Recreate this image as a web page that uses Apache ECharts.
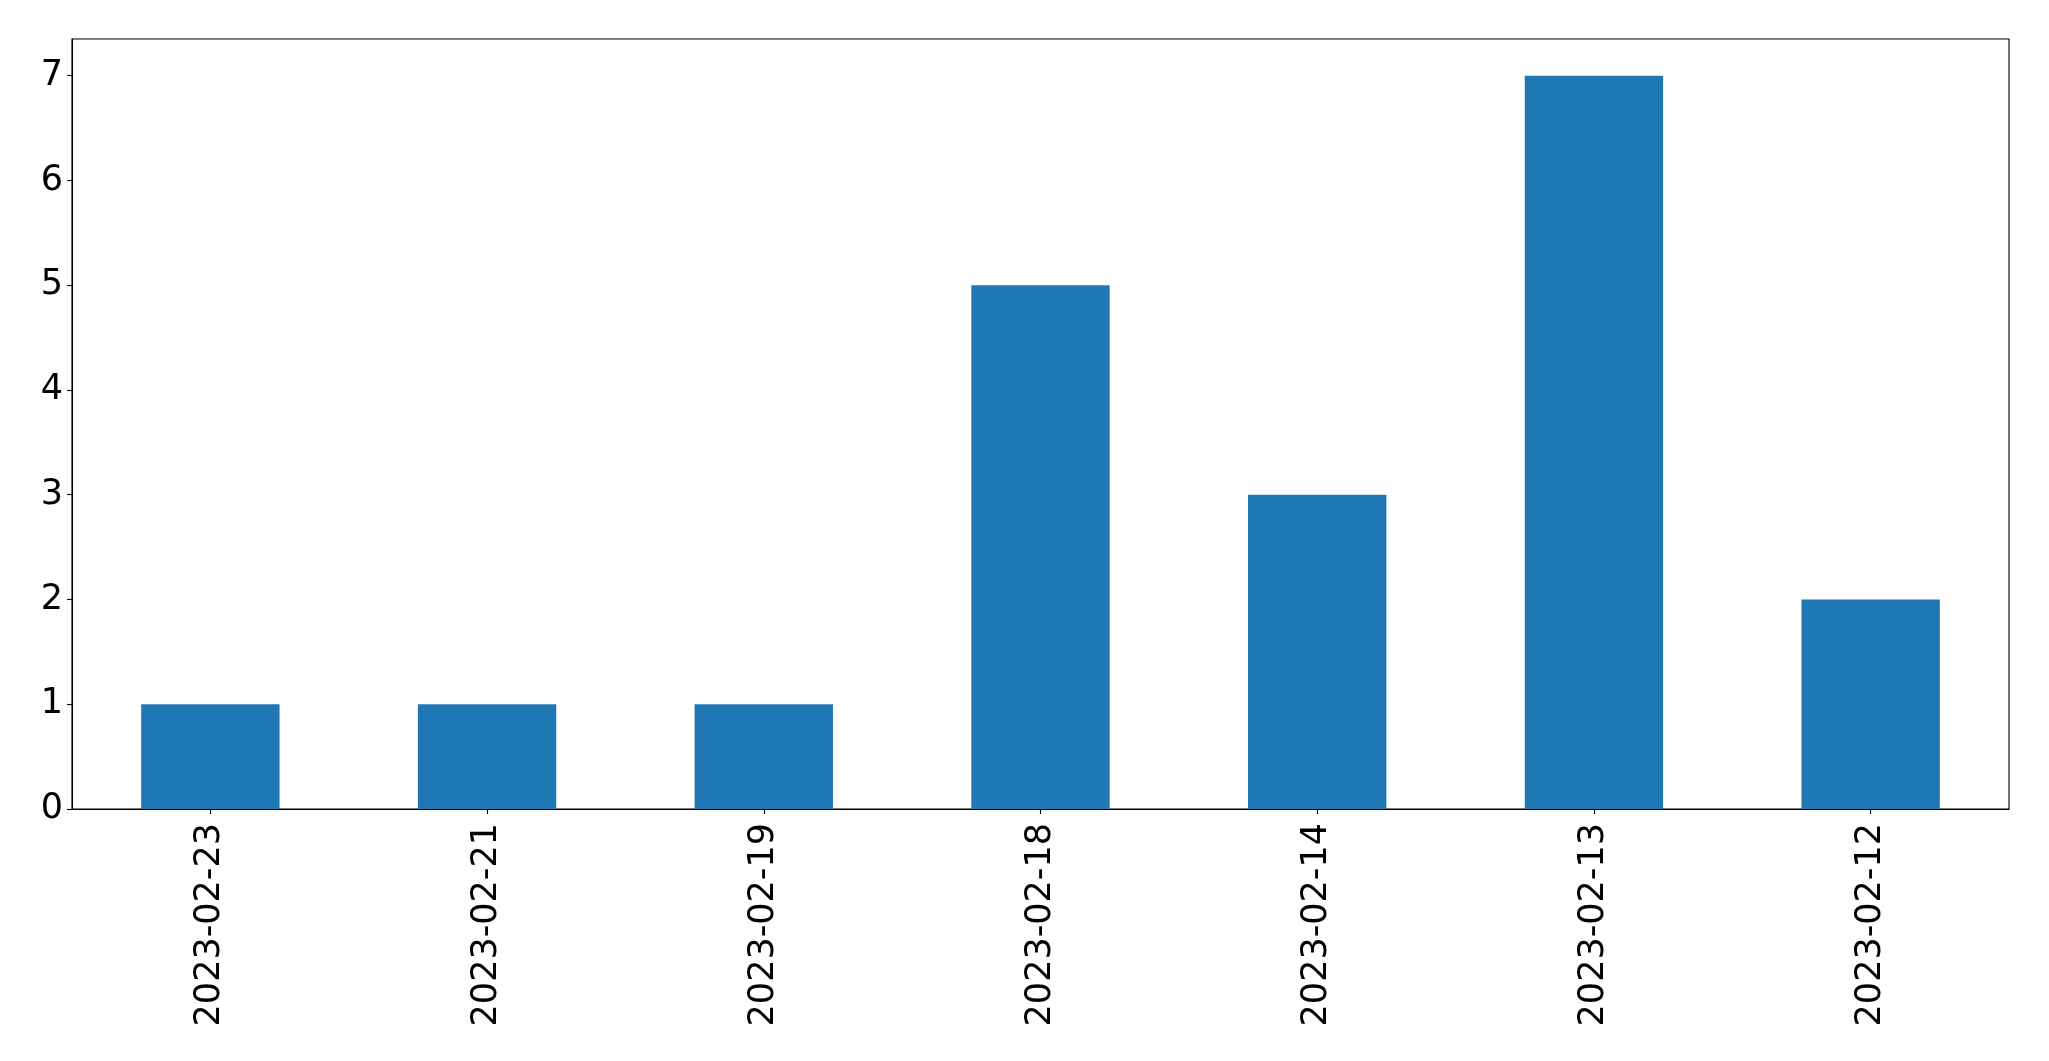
<!DOCTYPE html>
<html>
<head>
<meta charset="utf-8">
<script src="https://cdn.jsdelivr.net/npm/echarts@6/dist/echarts.min.js"></script>
<style>
html,body{margin:0;padding:0;background:#fff;}
#c{width:2049px;height:1061px;}
</style>
</head>
<body>
<div id="c"></div>
<script>
const categories = ["2023-02-23","2023-02-21","2023-02-19","2023-02-18","2023-02-14","2023-02-13","2023-02-12"];
const counts = [1, 1, 1, 5, 3, 7, 2];
const yTicks = [0, 1, 2, 3, 4, 5, 6, 7];

const chart = echarts.init(document.getElementById('c'));
const font = '"DejaVu Sans", sans-serif';
chart.setOption({
  animation: false,
  backgroundColor: '#ffffff',
  grid: {
    left: 72, right: 40, top: 39, bottom: 252,
    show: true, borderColor: '#000', borderWidth: 1.1, backgroundColor: 'transparent'
  },
  xAxis: {
    type: 'category',
    data: categories,
    boundaryGap: true,
    axisLine: { show: true, lineStyle: { color: '#000', width: 1.1 } },
    axisTick: { show: true, alignWithLabel: true, length: 5, lineStyle: { color: '#000', width: 1.1 } },
    axisLabel: { rotate: 90, fontSize: 35, color: '#000', fontFamily: font, margin: 14, interval: 0 },
    splitLine: { show: false }
  },
  yAxis: {
    type: 'value',
    min: 0, max: 7.35, interval: 1,
    axisLine: { show: true, lineStyle: { color: '#000', width: 1.1 } },
    axisTick: { show: true, length: 5, customValues: yTicks, lineStyle: { color: '#000', width: 1.1 } },
    axisLabel: { fontSize: 35, color: '#000', fontFamily: font, margin: 9, padding: [6, 0, 0, 0], customValues: yTicks },
    splitLine: { show: false }
  },
  series: [{
    type: 'bar',
    data: counts,
    barWidth: '50%',
    itemStyle: { color: '#1f77b4' }
  }]
});
</script>
</body>
</html>
